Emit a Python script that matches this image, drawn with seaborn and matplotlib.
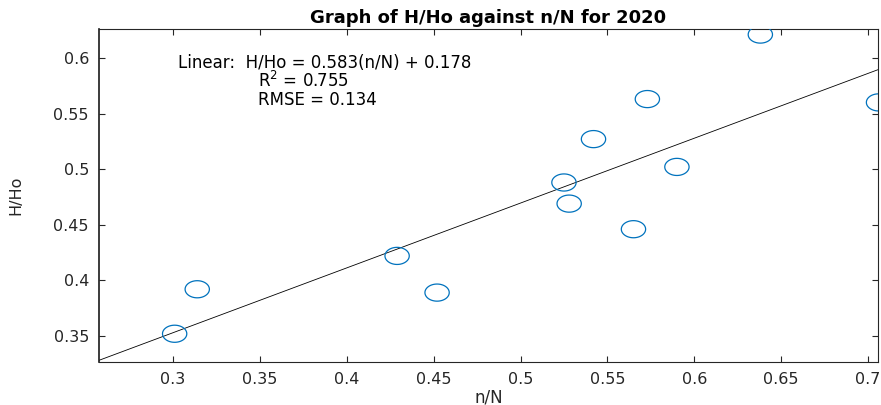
import numpy as np
import pandas as pd
import matplotlib
matplotlib.use("Agg")
import matplotlib.pyplot as plt
from matplotlib.path import Path
import seaborn as sns

# Data
n_over_N = [0.301, 0.314, 0.429, 0.452, 0.525, 0.528, 0.542, 0.573, 0.565, 0.590, 0.638, 0.706]
H_over_Ho = [0.352, 0.392, 0.422, 0.389, 0.488, 0.469, 0.527, 0.563, 0.446, 0.502, 0.621, 0.560]
fit_slope = 0.583
fit_intercept = 0.178
x_ticks = [0.3, 0.35, 0.4, 0.45, 0.5, 0.55, 0.6, 0.65, 0.7]
y_ticks = [0.35, 0.4, 0.45, 0.5, 0.55, 0.6]
x_limits = [0.2573, 0.7057]
y_limits = [0.3266, 0.626]

sns.set_theme(style="white")
plt.rcParams['font.family'] = ['DejaVu Sans']

fig = plt.figure(figsize=(8.81, 4.05), dpi=100)
ax = fig.add_axes([98.7/881, 1-362/405, (878-98.7)/881, (362-29)/405])

df = pd.DataFrame({"n/N": n_over_N, "H/Ho": H_over_Ho})

# ellipse marker (reference is horizontally stretched)
t = np.linspace(0, 2*np.pi, 60)
ell = Path(np.column_stack([1.42*np.cos(t), np.sin(t)]), closed=True)

sns.scatterplot(data=df, x="n/N", y="H/Ho", ax=ax, marker=ell, s=17.5**2,
                facecolors='none', edgecolor='#0072BD', linewidth=0.9, zorder=3)

fit_x = np.array(x_limits)
fit_df = pd.DataFrame({"x": fit_x, "y": fit_slope*fit_x + fit_intercept})
sns.lineplot(data=fit_df, x="x", y="y", ax=ax, color='black', linewidth=0.6, zorder=2)

ax.set_xlim(x_limits)
ax.set_ylim(y_limits)
ax.set_xticks(x_ticks)
ax.set_xticklabels([f"{v:g}" for v in x_ticks])
ax.set_yticks(y_ticks)
ax.set_yticklabels([f"{v:g}" for v in y_ticks])

for sp in ax.spines.values():
    sp.set_visible(True)
    sp.set_color('#262626')
    sp.set_linewidth(0.8)
ax.spines['left'].set_linewidth(1.2)
ax.spines['left'].set_color('#1a1a1a')

ax.tick_params(axis='both', which='both', direction='in', length=4, width=0.8,
               color='#262626', labelcolor='#262626', labelsize=11.5,
               top=True, right=True, bottom=True, left=True, pad=7)

ax.set_xlabel("n/N", fontsize=12, color='#262626', labelpad=1)
ax.set_ylabel("H/Ho", fontsize=11.5, color='#262626', labelpad=22)
ax.set_title("Graph of H/Ho against n/N for 2020", fontsize=13, fontweight='bold',
             color='black', pad=4)

tx = ax.transAxes
def px(xp, yp):
    x0, y0 = 98.7, 362
    return ((xp - x0)/(878-98.7), (y0 - yp)/(362-29))

ax.text(*px(178, 68), "Linear:  H/Ho = 0.583(n/N) + 0.178", transform=tx,
        fontsize=12, color='black', ha='left', va='baseline')
ax.text(*px(258, 87), r"R$^2$ = 0.755", transform=tx,
        fontsize=12, color='black', ha='left', va='baseline')
ax.text(*px(258, 105), "RMSE = 0.134", transform=tx,
        fontsize=12, color='black', ha='left', va='baseline')

ax.grid(False)
fig.savefig("out.png", dpi=100)
